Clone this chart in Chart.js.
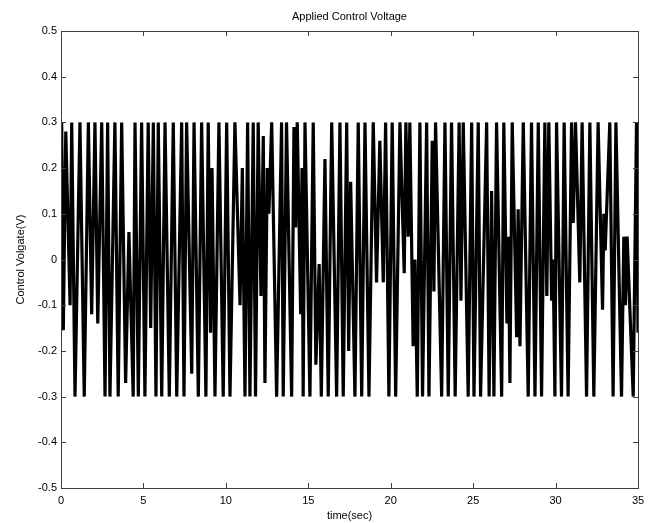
<!DOCTYPE html>
<html>
<head>
<meta charset="utf-8">
<script src="https://cdn.jsdelivr.net/npm/chart.js@4"></script>
<style>
  html, body { margin: 0; padding: 0; background: #fff; }
  #wrap { width: 656px; height: 523px; }
</style>
</head>
<body>
<div id="wrap"><canvas id="chart" width="656" height="523"></canvas></div>
<script>
// time (s) of each turning point
var timeSec = [
  0, 0.04, 0.14, 0.29, 0.55, 0.65, 0.85, 1.15, 1.41, 1.66, 1.86, 2.06, 2.23, 2.47, 2.67, 2.83, 2.97, 3.27, 3.47, 3.68, 3.92, 4.12, 4.38,
  4.49, 4.69, 4.89, 5.09, 5.29, 5.44, 5.60, 5.76, 5.90, 6.11, 6.31, 6.57, 6.81, 7.02, 7.32, 7.46, 7.62, 7.93, 8.07, 8.33, 8.53, 8.79, 8.93,
  9.07, 9.16, 9.34, 9.58, 9.84, 10.05, 10.25, 10.55, 10.86, 11.0, 11.16, 11.32, 11.46, 11.66, 11.80, 11.96, 12.13, 12.27, 12.37, 12.51, 12.61, 12.78, 13.08, 13.38,
  13.48, 13.68, 13.99, 14.13, 14.23, 14.33, 14.54, 14.62, 14.69, 14.80, 15.10, 15.30, 15.46, 15.66, 15.79, 16.01, 16.21, 16.42, 16.72, 16.92, 17.12, 17.33, 17.45, 17.57, 17.83, 18.03,
  18.24, 18.44, 18.68, 18.94, 19.14, 19.34, 19.55, 19.69, 19.89, 20.09, 20.30, 20.56, 20.82, 20.92, 21.06, 21.16, 21.36, 21.47, 21.61, 21.77, 21.93, 22.18, 22.32, 22.52,
  22.62, 22.72, 23.09, 23.29, 23.49, 23.69, 23.91, 24.15, 24.26, 24.40, 24.70, 24.91, 25.05, 25.31, 25.45, 25.82, 25.97, 26.12, 26.26, 26.42, 26.73, 26.86,
  27.05, 27.14, 27.23, 27.37, 27.64, 27.73, 27.84, 28.04, 28.34, 28.54, 28.75, 28.95, 29.15, 29.35, 29.47, 29.59, 29.76, 29.85, 29.96, 30.06, 30.36, 30.52, 30.76, 30.97, 31.07, 31.21, 31.47, 31.61,
  31.88, 32.08, 32.32, 32.58, 32.85, 32.93, 33.01, 33.29, 33.49, 33.66, 34.00, 34.14, 34.24, 34.34, 34.71, 34.91, 35.0
];
// control voltage (V) at those points
var voltage = [
  0, 0.3, -0.155, 0.28, -0.10, 0.3, -0.3, 0.3, -0.3, 0.3, -0.12, 0.3, -0.14, 0.3, -0.3, 0.3, -0.3, 0.3, -0.3, 0.3, -0.27, 0.06, -0.3,
  0.3, -0.3, 0.3, -0.3, 0.3, -0.15, 0.3, -0.3, 0.3, -0.3, 0.3, -0.3, 0.3, -0.3, 0.3, -0.3, 0.3, -0.25, 0.3, -0.3, 0.3, -0.3, 0.3,
  -0.16, 0.2, -0.3, 0.3, -0.3, 0.3, -0.3, 0.3, -0.1, 0.2, -0.3, 0.3, -0.3, 0.3, -0.3, 0.3, -0.08, 0.27, -0.27, 0.2, 0.1, 0.3, -0.3, 0.3,
  -0.3, 0.3, -0.3, 0.29, 0.07, 0.3, -0.12, 0.2, -0.3, 0.3, -0.3, 0.3, -0.23, -0.01, -0.3, 0.22, -0.3, 0.3, -0.3, 0.3, -0.3, 0.3, -0.2, 0.17, -0.3, 0.3,
  -0.3, 0.3, -0.3, 0.3, -0.05, 0.26, -0.05, 0.3, -0.3, 0.3, -0.3, 0.3, -0.03, 0.3, 0.05, 0.3, -0.19, 0.0, -0.3, 0.3, -0.3, 0.3, -0.3, 0.26,
  -0.07, 0.3, -0.3, 0.3, -0.3, 0.3, -0.3, 0.3, -0.09, 0.3, -0.3, 0.3, -0.3, 0.3, -0.3, 0.3, -0.3, 0.15, -0.3, 0.3, -0.3, 0.3,
  -0.14, 0.05, -0.27, 0.3, -0.17, 0.11, -0.19, 0.3, -0.3, 0.3, -0.3, 0.3, -0.3, 0.3, -0.08, 0.3, -0.09, 0.0, -0.3, 0.3, -0.3, 0.3, -0.3, 0.3, 0.08, 0.3, -0.05, 0.3,
  -0.3, 0.3, -0.3, 0.3, -0.11, 0.1, 0.02, 0.3, -0.3, 0.3, -0.3, 0.05, -0.1, 0.05, -0.3, 0.3, -0.16
];
var xTicks = [0, 5, 10, 15, 20, 25, 30, 35];
var yTicks = [-0.5, -0.4, -0.3, -0.2, -0.1, 0, 0.1, 0.2, 0.3, 0.4, 0.5];

var FONT = 'Liberation Sans, Arial, Helvetica, sans-serif';
var AXIS = '#404040';

// box round the plot, ticks pointing in on all four sides, title on top
var matlabAxes = {
    id: 'matlabAxes',
    afterDraw: function(chart) {
        var c = chart.ctx, a = chart.chartArea;
        var xs = chart.scales.x, ys = chart.scales.y;
        var len = 5;
        c.save();
        c.strokeStyle = AXIS;
        c.lineWidth = 1;
        c.strokeRect(a.left + 0.5, a.top + 0.5, a.right - a.left, a.bottom - a.top);
        c.beginPath();
        xTicks.forEach(function(v) {
            var px = Math.round(xs.getPixelForValue(v)) + 0.5;
            c.moveTo(px, a.bottom); c.lineTo(px, a.bottom - len);
            c.moveTo(px, a.top); c.lineTo(px, a.top + len);
        });
        yTicks.forEach(function(v) {
            var py = Math.round(ys.getPixelForValue(v)) + 0.5;
            c.moveTo(a.left, py); c.lineTo(a.left + len, py);
            c.moveTo(a.right, py); c.lineTo(a.right - len, py);
        });
        c.stroke();
        c.fillStyle = '#000';
        c.font = '11px ' + FONT;
        c.textAlign = 'center';
        c.textBaseline = 'middle';
        c.fillText('Applied Control Voltage', (a.left + a.right) / 2, a.top - 14);
        c.restore();
    }
};

var points = timeSec.map(function(t, i) { return { x: t, y: voltage[i] }; });

new Chart(document.getElementById('chart').getContext('2d'), {
    type: 'line',
    data: {
        datasets: [{
            data: points,
            borderColor: '#000',
            borderWidth: 3.2,
            borderJoinStyle: 'bevel',
            pointRadius: 0,
            tension: 0,
            fill: false
        }]
    },
    options: {
        responsive: false,
        animation: false,
        layout: { padding: { top: 31, right: 18, left: 0, bottom: 0 } },
        plugins: { legend: { display: false }, tooltip: { enabled: false } },
        scales: {
            x: {
                type: 'linear',
                min: 0, max: 35,
                afterFit: function(s) { s.height = 35; },
                afterBuildTicks: function(s) { s.ticks = xTicks.map(function(v) { return { value: v }; }); },
                grid: { display: false, drawTicks: false },
                border: { display: false },
                ticks: { color: '#000', font: { family: FONT, size: 11 }, padding: 6, maxRotation: 0 },
                title: { display: true, text: 'time(sec)', color: '#000', font: { family: FONT, size: 11 }, padding: { top: 0, bottom: 0 } }
            },
            y: {
                min: -0.5, max: 0.5,
                afterFit: function(s) { s.width = 61; },
                afterBuildTicks: function(s) { s.ticks = yTicks.map(function(v) { return { value: v }; }); },
                grid: { display: false, drawTicks: false },
                border: { display: false },
                ticks: {
                    color: '#000', font: { family: FONT, size: 11 }, padding: 4,
                    callback: function(v) { return Math.abs(v) < 1e-9 ? '0' : v.toFixed(1); }
                },
                title: { display: true, text: 'Control Volgate(V)', color: '#000', font: { family: FONT, size: 11 }, padding: { top: 14, bottom: 0 } }
            }
        }
    },
    plugins: [matlabAxes]
});
</script>
</body>
</html>
